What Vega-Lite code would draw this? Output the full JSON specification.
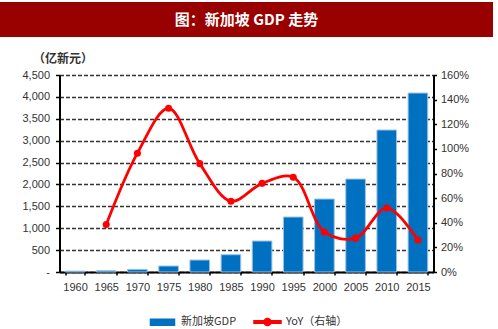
{
  "$schema": "https://vega.github.io/schema/vega-lite/v6.json",
  "padding": {"left": 0, "top": 2, "right": 0, "bottom": 0},
  "background": "white",
  "bounds": "flush",
  "center": true,
  "spacing": 38,
  "config": {
    "font": "Liberation Sans",
    "view": {"stroke": null}
  },
  "datasets": {
    "head": [{"t": "图：新加坡 GDP 走势"}],
    "gdp": [
      {"year": "1960", "gdp": 21, "yoy": null},
      {"year": "1965", "gdp": 30, "yoy": 38.5},
      {"year": "1970", "gdp": 60, "yoy": 96.5},
      {"year": "1975", "gdp": 137, "yoy": 133},
      {"year": "1980", "gdp": 274, "yoy": 88},
      {"year": "1985", "gdp": 395, "yoy": 57.5},
      {"year": "1990", "gdp": 708, "yoy": 72},
      {"year": "1995", "gdp": 1256, "yoy": 77},
      {"year": "2000", "gdp": 1667, "yoy": 32.5},
      {"year": "2005", "gdp": 2124, "yoy": 27.5},
      {"year": "2010", "gdp": 3243, "yoy": 52},
      {"year": "2015", "gdp": 4088, "yoy": 26}
    ]
  },
  "vconcat": [
    {
      "width": 493,
      "height": 35,
      "view": {"fill": "#990000", "stroke": null},
      "data": {"name": "head"},
      "mark": {"type": "text", "color": "white", "font": "Noto Sans CJK SC", "fontWeight": "bold", "fontSize": 15, "baseline": "middle", "align": "center"},
      "encoding": {"text": {"field": "t"}}
    },
    {
      "width": 374,
      "height": 197,
      "data": {"name": "gdp"},
      "encoding": {
        "x": {
          "field": "year", "type": "ordinal", "sort": null,
          "scale": {"paddingInner": 0.37, "paddingOuter": 0.185},
          "axis": {
            "title": null, "labelAngle": 0, "labelFont": "Liberation Sans Narrow, Liberation Sans", "labelFontSize": 11, "labelColor": "#333333",
            "domainColor": "#000000", "domainWidth": 2, "tickColor": "#000000", "tickWidth": 1.5, "tickSize": 3,
            "tickBand": "extent", "labelPadding": 6, "grid": false
          }
        }
      },
      "layer": [
        {
          "mark": {"type": "bar", "color": "#0070C0", "stroke": "#9DC3E6", "strokeWidth": 1},
          "encoding": {
            "y": {
              "field": "gdp", "type": "quantitative",
              "scale": {"domain": [0, 4500], "nice": false},
              "axis": {
                "orient": "left", "values": [0, 500, 1000, 1500, 2000, 2500, 3000, 3500, 4000, 4500],
                "labelExpr": "datum.value === 0 ? '-' : format(datum.value, ',')",
                "labelFont": "Liberation Sans Narrow, Liberation Sans", "labelFontSize": 11, "labelColor": "#333333",
                "labelPadding": 6, "tickSize": 4, "tickColor": "#000000", "tickWidth": 1.5,
                "domainColor": "#000000", "domainWidth": 2,
                "grid": true, "gridColor": "#333333", "gridWidth": 1.6, "gridDash": [4, 2],
                "title": "（亿新元）", "titleAngle": 0, "titleAlign": "left", "titleBaseline": "middle",
                "titleX": -27, "titleY": -17, "titleFont": "Noto Sans CJK SC", "titleFontSize": 12, "titleFontWeight": "bold", "titleColor": "#333333"
              }
            },
            "color": {
              "datum": "新加坡GDP",
              "scale": {"domain": ["新加坡GDP", "YoY（右轴）"], "range": ["#0070C0", "#FF0000"]},
              "legend": {
                "title": null, "orient": "none", "legendX": 148, "legendY": 305, "direction": "horizontal", "padding": 0,
                "labelFont": "Noto Sans CJK SC", "labelFontSize": 11, "labelColor": "#333333",
                "columnPadding": 14, "labelOffset": 4, "symbolSize": 729,
                "encode": {
                  "symbols": {
                    "update": {
                      "shape": {"signal": "datum.value === '新加坡GDP' ? 'M-0.89,-0.22H0.89V0.22H-0.89Z' : 'M-1,-0.09H1V0.09H-1Z M0.26,0 A0.26,0.26 0 1,1 -0.26,0 A0.26,0.26 0 1,1 0.26,0Z'"},
                      "fill": {"signal": "datum.value === '新加坡GDP' ? '#0070C0' : '#FF0000'"},
                      "stroke": {"value": "transparent"},
                      "size": {"value": 729},
                      "opacity": {"value": 1}
                    }
                  }
                }
              }
            }
          }
        },
        {
          "mark": {"type": "line", "color": "#FF0000", "strokeWidth": 2.8, "interpolate": "catmull-rom", "point": {"filled": true, "size": 50, "color": "#FF0000"}},
          "encoding": {
            "y": {
              "field": "yoy", "type": "quantitative",
              "scale": {"domain": [0, 160], "nice": false},
              "axis": {
                "orient": "right", "values": [0, 20, 40, 60, 80, 100, 120, 140, 160],
                "labelExpr": "datum.value + '%'",
                "labelFont": "Liberation Sans Narrow, Liberation Sans", "labelFontSize": 11, "labelColor": "#333333",
                "labelPadding": 4, "tickSize": 3, "tickColor": "#000000", "tickWidth": 1.5,
                "domainColor": "#000000", "domainWidth": 2, "grid": false, "title": null
              }
            },
            "color": {
              "datum": "YoY（右轴）",
              "legend": {
                "title": null, "orient": "none", "legendX": 148, "legendY": 305, "direction": "horizontal", "padding": 0,
                "labelFont": "Noto Sans CJK SC", "labelFontSize": 11, "labelColor": "#333333",
                "columnPadding": 14, "labelOffset": 4, "symbolSize": 729,
                "encode": {
                  "symbols": {
                    "update": {
                      "shape": {"signal": "datum.value === '新加坡GDP' ? 'M-0.89,-0.22H0.89V0.22H-0.89Z' : 'M-1,-0.09H1V0.09H-1Z M0.26,0 A0.26,0.26 0 1,1 -0.26,0 A0.26,0.26 0 1,1 0.26,0Z'"},
                      "fill": {"signal": "datum.value === '新加坡GDP' ? '#0070C0' : '#FF0000'"},
                      "stroke": {"value": "transparent"},
                      "size": {"value": 729},
                      "opacity": {"value": 1}
                    }
                  }
                }
              }
            }
          }
        }
      ],
      "resolve": {"scale": {"y": "independent"}}
    }
  ]
}
